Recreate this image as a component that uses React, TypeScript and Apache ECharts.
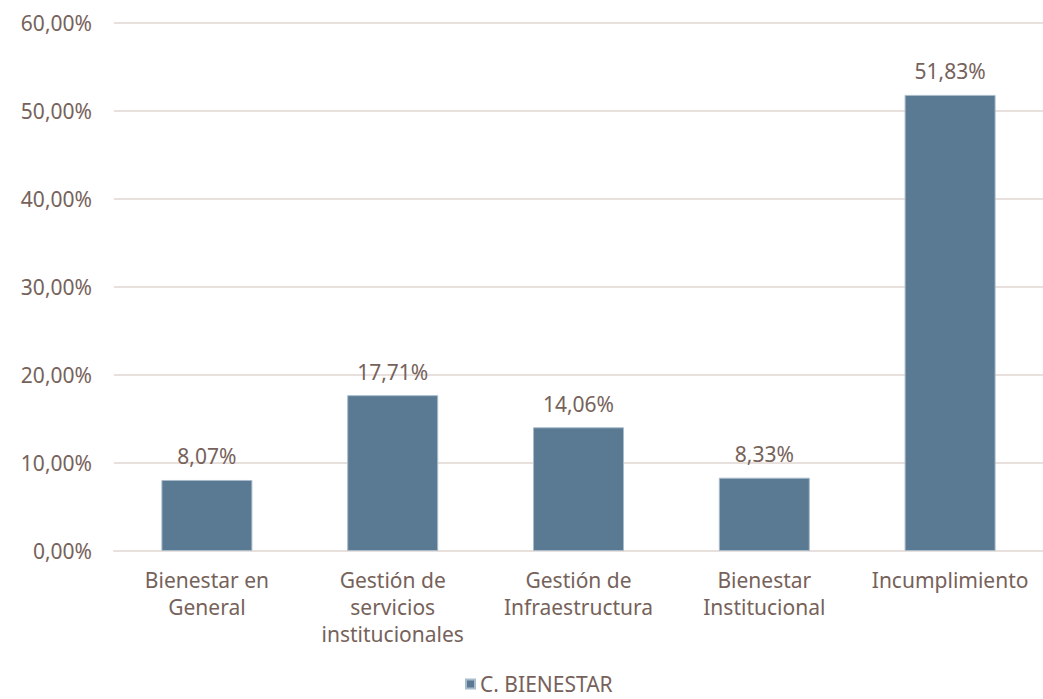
import React, { useEffect, useRef } from "react";
import * as echarts from "echarts";

const categories = [
  "Bienestar en\nGeneral",
  "Gestión de\nservicios\ninstitucionales",
  "Gestión de\nInfraestructura",
  "Bienestar\nInstitucional",
  "Incumplimiento",
];
const seriesName = "C. BIENESTAR";
const values = [8.07, 17.71, 14.06, 8.33, 51.83];
const yTicks = [0, 10, 20, 30, 40, 50, 60];

const TEXT = "#76625a";
const FONT = "'Noto Sans', sans-serif";
const FS = 21;
const fmt = (v: number) => v.toFixed(2).replace(".", ",") + "%";

export default function App() {
  const ref = useRef<HTMLDivElement>(null);
  useEffect(() => {
    const chart = echarts.init(ref.current!, null, { renderer: "svg" });
    chart.setOption({
      animation: false,
      textStyle: { fontFamily: FONT, color: TEXT },
      grid: { left: 114, top: 23, width: 933, height: 528, containLabel: false },
      legend: {
        data: [seriesName],
        top: 673,
        left: 465,
        itemWidth: 9,
        itemHeight: 9,
        itemGap: 6,
        icon: "rect",
        padding: 0,
        textStyle: { fontFamily: FONT, color: TEXT, fontSize: 21, lineHeight: 22 },
      },
      xAxis: {
        type: "category",
        data: categories,
        axisLine: { show: true, lineStyle: { color: "#e8e0dd", width: 2 } },
        axisTick: { show: false },
        axisLabel: {
          color: TEXT,
          fontFamily: FONT,
          fontSize: FS,
          lineHeight: 27,
          margin: 15,
          interval: 0,
        },
      },
      yAxis: {
        type: "value",
        min: yTicks[0],
        max: yTicks[yTicks.length - 1],
        interval: 10,
        axisLine: { show: false },
        axisTick: { show: false },
        splitLine: { lineStyle: { color: "#e8e0dd", width: 2 } },
        axisLabel: {
          color: TEXT,
          fontFamily: FONT,
          fontSize: FS,
          margin: 22,
          formatter: (v: number) => fmt(v),
        },
      },
      series: [
        {
          name: seriesName,
          type: "bar",
          data: values,
          barWidth: 91,
          itemStyle: { color: "#5a7a93", borderColor: "#a9bccb", borderWidth: 1 },
          label: {
            show: true,
            position: "top",
            distance: 13,
            color: TEXT,
            fontFamily: FONT,
            fontSize: FS,
            formatter: (p: any) => fmt(p.value),
          },
        },
      ],
    });
    return () => chart.dispose();
  }, []);
  return (
    <div
      ref={ref}
      style={{ position: "absolute", left: 0, top: 0, width: 1043, height: 699 }}
    />
  );
}
